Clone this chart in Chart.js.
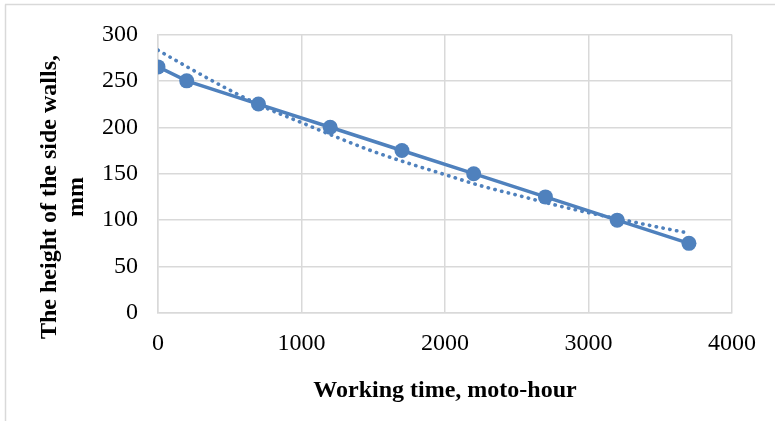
<!DOCTYPE html>
<html>
<head>
<meta charset="utf-8">
<script src="https://cdn.jsdelivr.net/npm/chart.js@4/dist/chart.umd.min.js"></script>
<style>
  html, body { margin: 0; padding: 0; background: #fff; }
  #wrap { width: 775px; height: 421px; position: relative; }
</style>
</head>
<body>
<div id="wrap"><canvas id="c" width="775" height="421"></canvas></div>
<script>
// Data
const workingTime = [0, 200, 700, 1200, 1700, 2200, 2700, 3200, 3700];
const wallHeight  = [265, 250, 225, 200, 175, 150, 125, 100, 75];
// Dotted trend line
const trendTime   = [0, 250, 500, 750, 1000, 1250, 1500, 1750, 2000, 2250, 2500, 2750, 3000, 3250, 3500, 3700];
const trendHeight = [283, 261, 240, 221, 205, 189, 174, 161, 149, 137, 127, 117, 108, 100, 92, 86];
const xTicks = [0, 1000, 2000, 3000, 4000];
const yTicks = [0, 50, 100, 150, 200, 250, 300];
const xTitle = 'Working time, moto-hour';
const yTitle = ['The height of the side walls,', 'mm'];

const BLUE = '#4f81bd';
const GRID = '#d9d9d9';
const SERIF = '"Liberation Serif", "Times New Roman", serif';

const framePlugin = {
  id: 'frame',
  beforeDraw(chart) {
    const ctx = chart.ctx;
    ctx.save();
    ctx.fillStyle = '#fff';
    ctx.fillRect(0, 0, chart.width, chart.height);
    ctx.strokeStyle = GRID;
    ctx.lineWidth = 1.5;
    ctx.beginPath();
    ctx.moveTo(5, 4.5); ctx.lineTo(775, 4.5);
    ctx.moveTo(5.5, 4.5); ctx.lineTo(5.5, 421);
    ctx.stroke();
    ctx.restore();
  },
  afterDraw(chart) {
    const ctx = chart.ctx;
    ctx.save();
    ctx.fillStyle = '#000';
    ctx.font = 'bold 24px ' + SERIF;
    ctx.textAlign = 'center';
    ctx.textBaseline = 'middle';
    ctx.translate(50, 197);
    ctx.rotate(-Math.PI / 2);
    ctx.fillText(yTitle[0], 0, 0);
    ctx.fillText(yTitle[1], 0, 27);
    ctx.restore();
  }
};

new Chart(document.getElementById('c'), {
  type: 'scatter',
  data: {
    datasets: [
      {
        label: 'Height',
        data: workingTime.map((x, i) => ({ x: x, y: wallHeight[i] })),
        showLine: true,
        borderColor: BLUE,
        backgroundColor: BLUE,
        borderWidth: 3.5,
        pointRadius: 7.5,
        pointHoverRadius: 7.5,
        pointBorderWidth: 0,
        tension: 0
      },
      {
        label: 'Trend',
        data: trendTime.map((x, i) => ({ x: x, y: trendHeight[i] })),
        showLine: true,
        borderColor: BLUE,
        borderWidth: 3.6,
        borderDash: [0.3, 6.6],
        borderCapStyle: 'round',
        pointRadius: 0,
        cubicInterpolationMode: 'monotone'
      }
    ]
  },
  options: {
    responsive: false,
    animation: false,
    layout: { padding: { left: 0, right: 43, top: 33, bottom: 0 } },
    plugins: {
      legend: { display: false },
      tooltip: { enabled: false }
    },
    scales: {
      x: {
        type: 'linear',
        min: 0, max: 4000,
        afterBuildTicks(scale) { scale.ticks = xTicks.map(v => ({ value: v })); },
        afterFit(scale) { scale.height = 108; },
        grid: { color: GRID, lineWidth: 1.5, drawTicks: false },
        border: { color: GRID, width: 1.5 },
        ticks: {
          padding: 16,
          color: '#000',
          font: { family: SERIF, size: 24 },
          maxRotation: 0,
          callback: v => String(v)
        },
        title: {
          display: true,
          text: xTitle,
          color: '#000',
          font: { family: SERIF, size: 24, weight: 'bold' },
          padding: { top: 0, bottom: 16 }
        }
      },
      y: {
        type: 'linear',
        min: 0, max: 300,
        afterBuildTicks(scale) { scale.ticks = yTicks.map(v => ({ value: v })); },
        afterFit(scale) { scale.width = 158; },
        grid: { color: GRID, lineWidth: 1.5, drawTicks: false },
        border: { color: GRID, width: 1.5 },
        ticks: {
          padding: 20,
          color: '#000',
          font: { family: SERIF, size: 24 },
          callback: v => String(v)
        }
      }
    }
  },
  plugins: [framePlugin]
});
</script>
</body>
</html>
